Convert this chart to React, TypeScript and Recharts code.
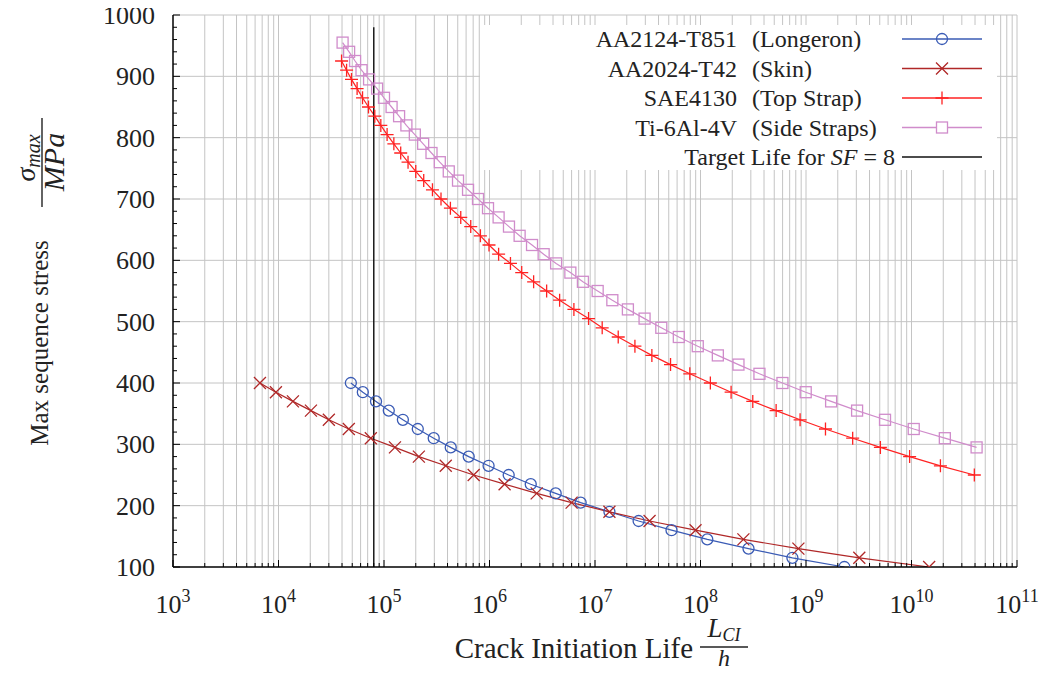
import React from "react";
import { LineChart, Line, XAxis, YAxis, ReferenceLine, Legend } from "recharts";

// Crack initiation life (h) vs max sequence stress (MPa)
const longeronLife = [4.85e4, 6.3e4, 8.4e4, 1.11e5, 1.51e5, 2.09e5, 2.96e5, 4.29e5, 6.35e5, 9.8e5, 1.52e6, 2.46e6, 4.24e6, 7.31e6, 1.37e7, 2.59e7, 5.31e7, 1.16e8, 2.85e8, 7.43e8, 2.31e9];
const longeronStress = [400, 385, 370, 355, 340, 325, 310, 295, 280, 265, 250, 235, 220, 205, 190, 175, 160, 145, 130, 115, 100];

const skinLife = [6.67e3, 9.45e3, 1.37e4, 2.03e4, 3.0e4, 4.64e4, 7.5e4, 1.27e5, 2.14e5, 3.85e5, 7.08e5, 1.39e6, 2.8e6, 6.0e6, 1.37e7, 3.29e7, 8.97e7, 2.55e8, 8.47e8, 3.2e9, 1.47e10];
const skinStress = [400, 385, 370, 355, 340, 325, 310, 295, 280, 265, 250, 235, 220, 205, 190, 175, 160, 145, 130, 115, 100];

const topStrapLife = [3.96e4, 4.42e4, 4.92e4, 5.56e4, 6.26e4, 7.13e4, 8.18e4, 9.33e4, 1.07e5, 1.24e5, 1.44e5, 1.69e5, 2.0e5, 2.38e5, 2.88e5, 3.47e5, 4.26e5, 5.34e5, 6.64e5, 8.2e5, 9.89e5, 1.22e6, 1.58e6, 2.02e6, 2.62e6, 3.48e6, 4.62e6, 6.31e6, 8.69e6, 1.17e7, 1.66e7, 2.39e7, 3.46e7, 5.2e7, 7.92e7, 1.24e8, 1.95e8, 3.13e8, 5.21e8, 8.79e8, 1.53e9, 2.77e9, 5.07e9, 9.6e9, 1.88e10, 3.94e10];
const topStrapStress = [925, 910, 895, 880, 865, 850, 835, 820, 805, 790, 775, 760, 745, 730, 715, 700, 685, 670, 655, 640, 625, 610, 595, 580, 565, 550, 535, 520, 505, 490, 475, 460, 445, 430, 415, 400, 385, 370, 355, 340, 325, 310, 295, 280, 265, 250];

const sideStrapLife = [4.05e4, 4.67e4, 5.32e4, 6.12e4, 7.22e4, 8.6e4, 1.0e5, 1.18e5, 1.39e5, 1.63e5, 1.96e5, 2.35e5, 2.82e5, 3.38e5, 4.11e5, 5.03e5, 6.26e5, 7.78e5, 9.68e5, 1.22e6, 1.53e6, 1.93e6, 2.53e6, 3.26e6, 4.28e6, 5.84e6, 7.68e6, 1.06e7, 1.46e7, 2.05e7, 2.95e7, 4.25e7, 6.23e7, 9.42e7, 1.46e8, 2.29e8, 3.62e8, 5.98e8, 9.94e8, 1.73e9, 3.05e9, 5.61e9, 1.05e10, 2.07e10, 4.14e10];
const sideStrapStress = [955, 940, 925, 910, 895, 880, 865, 850, 835, 820, 805, 790, 775, 760, 745, 730, 715, 700, 685, 670, 655, 640, 625, 610, 595, 580, 565, 550, 535, 520, 505, 490, 475, 460, 445, 430, 415, 400, 385, 370, 355, 340, 325, 310, 295];

const targetLife = [8e4, 8e4];
const targetStress = [100, 980];

const xMajorTicks = [1e3, 1e4, 1e5, 1e6, 1e7, 1e8, 1e9, 1e10, 1e11];
const yTicks = [100, 120, 140, 160, 180, 200, 220, 240, 260, 280, 300, 320, 340, 360, 380, 400, 420, 440, 460, 480, 500, 520, 540, 560, 580, 600, 620, 640, 660, 680, 700, 720, 740, 760, 780, 800, 820, 840, 860, 880, 900, 920, 940, 960, 980, 1000];
const yGrid = [200, 300, 400, 500, 600, 700, 800, 900, 1000];

const xTicks: number[] = [];
xMajorTicks.forEach((m, i) => {
  xTicks.push(m);
  if (i < xMajorTicks.length - 1) for (let k = 2; k <= 9; k++) xTicks.push(k * m);
});

const zip = (xs: number[], ys: number[]) => xs.map((x, i) => ({ x, y: ys[i] }));
const longeronData = zip(longeronLife, longeronStress);
const skinData = zip(skinLife, skinStress);
const topStrapData = zip(topStrapLife, topStrapStress);
const sideStrapData = zip(sideStrapLife, sideStrapStress);
const targetData = zip(targetLife, targetStress);

const BLUE = "#3a5bb5";
const DARKRED = "#b02828";
const RED = "#ff2222";
const PINK = "#d08ccb";
const serif = { fontFamily: "'Liberation Serif', 'Times New Roman', 'DejaVu Serif', serif" };

const circle = (c: string) => (p: any) => (
  <circle key={p.index} cx={p.cx} cy={p.cy} r={5.5} fill="none" stroke={c} strokeWidth={1.3} />
);
const cross = (c: string) => (p: any) => (
  <path key={p.index} d={`M${p.cx - 6},${p.cy - 6}L${p.cx + 6},${p.cy + 6}M${p.cx - 6},${p.cy + 6}L${p.cx + 6},${p.cy - 6}`} stroke={c} strokeWidth={1.3} />
);
const plus = (c: string) => (p: any) => (
  <path key={p.index} d={`M${p.cx - 6.5},${p.cy}L${p.cx + 6.5},${p.cy}M${p.cx},${p.cy - 6.5}L${p.cx},${p.cy + 6.5}`} stroke={c} strokeWidth={1.3} />
);
const square = (c: string) => (p: any) => (
  <rect key={p.index} x={p.cx - 5.5} y={p.cy - 5.5} width={11} height={11} fill="none" stroke={c} strokeWidth={1.3} />
);

const XTick = ({ x, y, payload }: any) => {
  const v = payload.value;
  const e = Math.round(Math.log10(v));
  const major = Math.abs(v - Math.pow(10, e)) < 1e-6 * v;
  return (
    <g>
      <line x1={x} x2={x} y1={y} y2={y - (major ? 7 : 4)} stroke="#000" strokeWidth={1} />
      {major && (
        <text x={x} y={y + 46} textAnchor="middle" style={serif} fontSize={26} fill="#222">
          10<tspan dy={-11} fontSize={18}>{e}</tspan>
        </text>
      )}
    </g>
  );
};

const YTick = ({ x, y, payload }: any) => {
  const v = payload.value;
  const major = v % 100 === 0;
  return (
    <g>
      <line x1={x} x2={x + (major ? 7 : 4)} y1={y} y2={y} stroke="#000" strokeWidth={1} />
      {major && (
        <text x={x - 18} y={y} dy="0.35em" textAnchor="end" style={serif} fontSize={26} fill="#222">
          {v}
        </text>
      )}
    </g>
  );
};

const legendRows = [
  { name: "AA2124-T851", part: "(Longeron)", color: BLUE, marker: "circle" },
  { name: "AA2024-T42", part: "(Skin)", color: DARKRED, marker: "cross" },
  { name: "SAE4130", part: "(Top Strap)", color: RED, marker: "plus" },
  { name: "Ti-6Al-4V", part: "(Side Straps)", color: PINK, marker: "square" },
];

const LegendBox = () => {
  const rowY = (i: number) => 14 + i * 29.5;
  return (
    <svg width={517} height={145} style={{ display: "block" }}>
      <rect x={0} y={0} width={517} height={145} fill="#fff" />
      {legendRows.map((r, i) => {
        const cy = rowY(i);
        return (
          <g key={r.name}>
            <text x={257} y={cy} dy="0.35em" textAnchor="end" style={serif} fontSize={24} fill="#222">{r.name}</text>
            <text x={272} y={cy} dy="0.35em" textAnchor="start" style={serif} fontSize={24} fill="#222">{r.part}</text>
            <line x1={422} x2={502} y1={cy} y2={cy} stroke={r.color} strokeWidth={1.3} />
            {r.marker === "circle" && <circle cx={462} cy={cy} r={5.5} fill="none" stroke={r.color} strokeWidth={1.3} />}
            {r.marker === "cross" && <path d={`M456,${cy - 6}L468,${cy + 6}M456,${cy + 6}L468,${cy - 6}`} stroke={r.color} strokeWidth={1.3} />}
            {r.marker === "plus" && <path d={`M455.5,${cy}L468.5,${cy}M462,${cy - 6.5}L462,${cy + 6.5}`} stroke={r.color} strokeWidth={1.3} />}
            {r.marker === "square" && <rect x={456.5} y={cy - 5.5} width={11} height={11} fill="#fff" stroke={r.color} strokeWidth={1.3} />}
          </g>
        );
      })}
      <text x={415} y={rowY(4)} dy="0.35em" textAnchor="end" style={serif} fontSize={24} fill="#222">
        Target Life for <tspan fontStyle="italic">SF</tspan> = 8
      </text>
      <line x1={422} x2={502} y1={rowY(4)} y2={rowY(4)} stroke="#111" strokeWidth={1.4} />
    </svg>
  );
};

export default function App() {
  return (
    <div style={{ position: "relative", width: 1049, height: 675, margin: -8 }}>
      <LineChart width={1049} height={675} margin={{ top: 15, right: 32, bottom: 0, left: 0 }}>
        {xTicks.filter((v) => v > 1e3).map((v) => (
          <ReferenceLine key={"gx" + v} x={v} stroke="#c4c4c4" strokeWidth={1} />
        ))}
        {yGrid.map((v) => (
          <ReferenceLine key={"gy" + v} y={v} stroke="#c4c4c4" strokeWidth={1} />
        ))}
        <XAxis
          dataKey="x"
          type="number"
          scale="log"
          domain={[1e3, 1e11]}
          allowDataOverflow
          ticks={xTicks}
          interval={0}
          tickLine={false}
          tickSize={0}
          tickMargin={0}
          height={108}
          axisLine={{ stroke: "#000", strokeWidth: 1.5 }}
          tick={<XTick />}
        />
        <YAxis
          dataKey="y"
          type="number"
          domain={[100, 1000]}
          allowDataOverflow
          ticks={yTicks}
          interval={0}
          tickLine={false}
          tickSize={0}
          tickMargin={0}
          width={173}
          axisLine={{ stroke: "#000", strokeWidth: 1.5 }}
          tick={<YTick />}
        />
        <Legend
          layout="vertical"
          verticalAlign="middle"
          align="center"
          wrapperStyle={{ left: 480, top: 25, width: 517, height: 145 }}
          content={() => <LegendBox />}
        />
        <Line data={longeronData} dataKey="y" stroke={BLUE} strokeWidth={1.2} dot={circle(BLUE)} isAnimationActive={false} name="AA2124-T851 (Longeron)" />
        <Line data={skinData} dataKey="y" stroke={DARKRED} strokeWidth={1.2} dot={cross(DARKRED)} isAnimationActive={false} name="AA2024-T42 (Skin)" />
        <Line data={topStrapData} dataKey="y" stroke={RED} strokeWidth={1.2} dot={plus(RED)} isAnimationActive={false} name="SAE4130 (Top Strap)" />
        <Line data={sideStrapData} dataKey="y" stroke={PINK} strokeWidth={1.2} dot={square(PINK)} isAnimationActive={false} name="Ti-6Al-4V (Side Straps)" />
        <Line data={targetData} dataKey="y" stroke="#111" strokeWidth={1.4} dot={false} isAnimationActive={false} name="Target Life for SF = 8" />
      </LineChart>
      <svg width={1049} height={675} style={{ position: "absolute", left: 0, top: 0, pointerEvents: "none" }}>
        <text x={693} y={658} textAnchor="end" style={serif} fontSize={29} fill="#222">Crack Initiation Life</text>
        <text x={724} y={637} textAnchor="middle" style={serif} fontSize={27} fontStyle="italic" fill="#222">
          L<tspan dy={4} fontSize={18}>CI</tspan>
        </text>
        <line x1={700} x2={748} y1={647} y2={647} stroke="#222" strokeWidth={1.4} />
        <text x={724} y={666} textAnchor="middle" style={serif} fontSize={24} fontStyle="italic" fill="#222">h</text>
        <g transform="rotate(-90)">
          <text x={-343} y={48} textAnchor="middle" style={serif} fontSize={25} fill="#222">Max sequence stress</text>
          <text x={-158} y={35} textAnchor="middle" style={serif} fontSize={28} fontStyle="italic" fill="#222">
            σ<tspan dy={5} fontSize={20}>max</tspan>
          </text>
          <line x1={-207} x2={-118} y1={42} y2={42} stroke="#222" strokeWidth={1.4} />
          <text x={-162} y={64} textAnchor="middle" style={serif} fontSize={30} fontStyle="italic" fill="#222">MPa</text>
        </g>
      </svg>
    </div>
  );
}
